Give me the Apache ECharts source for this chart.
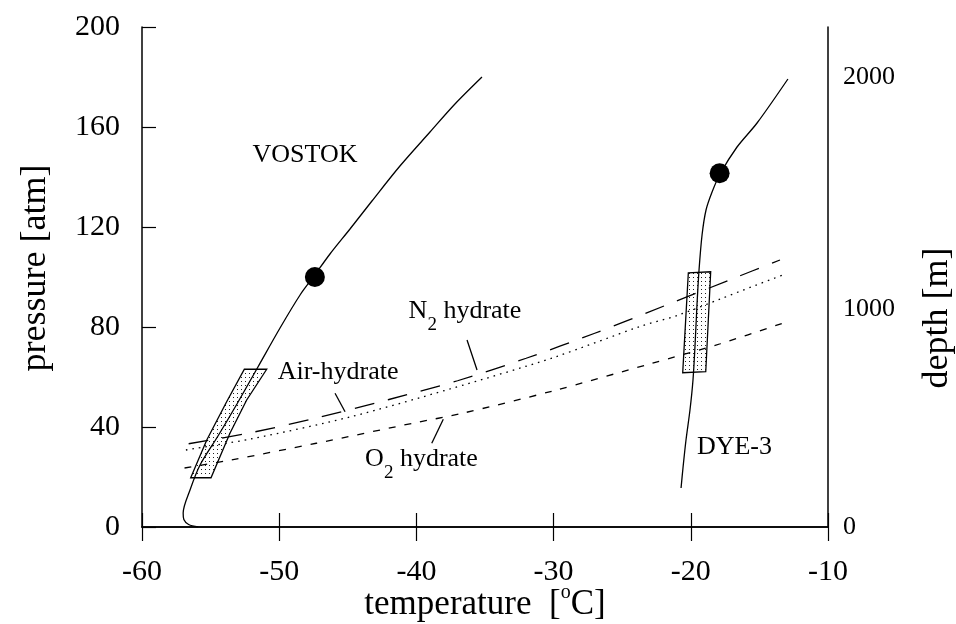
<!DOCTYPE html>
<html><head><meta charset="utf-8">
<script src="https://cdn.jsdelivr.net/npm/echarts@6/dist/echarts.min.js"></script>
<style>html,body{margin:0;padding:0;background:#fff}#c{width:956px;height:624px}</style>
</head><body><div id="c"></div>
<script>
// ---- axis ticks ----
const xTicks = [-60, -50, -40, -30, -20, -10];
const pressureTicks = [0, 40, 80, 120, 160, 200];
const depthLabels = [0, 1000, 2000];
const depthAtPressure = [0, 87, 180];

// ---- VOSTOK temperature profile ----
const vostokT = [-55.9, -56.6, -56.95, -57.0, -56.5, -55.77, -54.46, -53.08, -51.55, -49.94, -48.48, -47.46, -46.3, -44.84, -43.24, -41.2, -39.01, -37.19, -35.22];
const vostokP = [0, 1.0, 3.0, 5.6, 14.8, 24.8, 36.4, 49.2, 64.0, 79.6, 92.8, 100.4, 109.2, 119.2, 130.4, 144.4, 158.0, 169.2, 180.0];
const vostokDot = [-47.4, 100];

// ---- DYE-3 temperature profile ----
const dyeT = [-20.71, -20.57, -20.35, -20.06, -19.84, -19.69, -19.55, -19.4, -19.18, -18.89, -18.45, -17.87, -16.63, -15.17, -12.92];
const dyeP = [15.6, 23.6, 34.8, 46.8, 58.8, 72.8, 88.8, 102.8, 116.8, 126.8, 134.0, 141.2, 152.0, 161.6, 179.2];
const dyeDot = [-17.9, 141.5];

// ---- hydrate dissociation curves ----
const n2T = [-56.6, -52, -47, -42, -37, -32, -27, -22, -17, -13.5];
const n2P = [33.3, 37.8, 44, 51, 58.5, 67.5, 77.5, 88.3, 99.2, 106.8];
const airT = [-56.8, -52, -44.85, -37.5, -30, -23.7, -21, -17.85, -15.6, -13.2];
const airP = [30.8, 35.3, 44.0, 55.3, 67.8, 80.2, 84.6, 91.2, 96.0, 101.0];
const o2T = [-56.9, -53.5, -47.3, -40, -36.8, -30, -22.95, -17.85, -13.2];
const o2P = [23.6, 26.8, 33.5, 41.8, 45.3, 54.5, 65.3, 73.3, 81.7];

// ---- stippled bubble-to-hydrate transition zones ----
const boxVostok = [[-56.45, 19.7], [-55.28, 34.8], [-53.83, 50.1], [-52.54, 63.1], [-50.91, 63.1], [-52.37, 50.8], [-53.59, 37.5], [-54.97, 19.7]];
const boxDye = [[-20.59, 61.7], [-20.18, 101.7], [-18.55, 102.1], [-18.91, 62.1]];

// ---- leader lines ----
const leaderN2 = [[-36.31, 74.8], [-35.58, 62.8]];
const leaderAir = [[-45.93, 53.5], [-45.2, 46.1]];
const leaderO2 = [[-38.04, 43.1], [-38.88, 33.5]];

// ---- annotations ----
const labelNames = ['VOSTOK', 'N2 hydrate', 'Air-hydrate', 'O2 hydrate', 'DYE-3'];
const labelT = [-48.12, -36.46, -45.71, -39.63, -16.82];
const labelP = [148.8, 86.4, 61.8, 27.2, 31.8];

const pair = (a, b) => a.map((v, i) => [v, b[i]]);
const FONT = 'Liberation Serif';

// stipple pattern
const pc = document.createElement('canvas');
pc.width = 4; pc.height = 4;
const pctx = pc.getContext('2d');
pctx.fillStyle = '#fff'; pctx.fillRect(0, 0, 4, 4);
pctx.fillStyle = '#222'; pctx.fillRect(1, 1, 1, 1);
const stipple = { image: pc, repeat: 'repeat' };

function boxItem(poly) {
  return function (params, api) {
    return {
      type: 'polygon',
      shape: { points: poly.map(p => api.coord(p)) },
      style: { fill: stipple, stroke: '#000', lineWidth: 1.3 }
    };
  };
}

const richLbl = {
  m: { fontSize: 26, fontFamily: FONT, lineHeight: 30, color: '#000' },
  s: { fontSize: 19, fontFamily: FONT, lineHeight: 30, padding: [28, 0, 0, 0], color: '#000' }
};
function fmtLabel(name) {
  if (name.indexOf('2 ') === 1) return '{m|' + name[0] + '}{s|2}{m| ' + name.slice(3) + '}';
  return '{m|' + name + '}';
}

function lineSeries(data, type) {
  return {
    type: 'line', data: data, showSymbol: false, smooth: 0.3, silent: true, z: 3,
    lineStyle: { color: '#000', width: 1.3, type: type || 'solid', cap: 'butt' }
  };
}

const chart = echarts.init(document.getElementById('c'), null, { renderer: 'canvas' });
const axisLineStyle = { color: '#000', width: 1.5 };
const tickStyle = { inside: true, length: 14, lineStyle: { color: '#000', width: 1.2 } };
chart.setOption({
  animation: false,
  backgroundColor: '#fff',
  grid: { left: 142, right: 128, top: 27, bottom: 97, containLabel: false, outerBoundsMode: 'none' },
  xAxis: [{
    type: 'value', min: xTicks[0], max: xTicks[xTicks.length - 1], interval: 10, position: 'bottom',
    axisLine: { lineStyle: axisLineStyle },
    axisTick: tickStyle,
    axisLabel: { color: '#000', fontSize: 30, fontFamily: FONT, margin: 30 },
    splitLine: { show: false },
    name: 'temperature  [{sup|o}C]', nameLocation: 'middle', nameGap: 56, nameMoveOverlap: false,
    nameTextStyle: { color: '#000', fontSize: 35, fontFamily: FONT,
      rich: { sup: { fontSize: 20, fontFamily: FONT, color: '#000', padding: [0, 0, 23, 0] } } }
  }, {
    type: 'value', min: xTicks[0], max: xTicks[xTicks.length - 1], interval: 10, position: 'top',
    axisLine: { lineStyle: axisLineStyle },
    axisTick: tickStyle,
    axisLabel: { show: false }, splitLine: { show: false }
  }],
  yAxis: [{
    type: 'value', min: pressureTicks[0], max: pressureTicks[pressureTicks.length - 1], interval: 40, position: 'left',
    axisLine: { show: true, lineStyle: axisLineStyle },
    axisTick: Object.assign({ show: true }, tickStyle),
    axisLabel: { color: '#000', fontSize: 30, fontFamily: FONT, margin: 22 },
    splitLine: { show: false },
    name: 'pressure [atm]', nameLocation: 'middle', nameGap: 88, nameRotate: 90, nameMoveOverlap: false,
    nameTextStyle: { color: '#000', fontSize: 36, fontFamily: FONT, padding: [0, 0, 0, 18] }
  }, {
    type: 'value', min: pressureTicks[0], max: pressureTicks[pressureTicks.length - 1], position: 'right',
    axisLine: { show: true, lineStyle: axisLineStyle },
    axisTick: { show: false },
    axisLabel: { color: '#000', fontSize: 26, fontFamily: FONT, margin: 15,
      customValues: depthAtPressure,
      formatter: v => String(depthLabels[depthAtPressure.indexOf(v)]) },
    splitLine: { show: false },
    name: 'depth [m]', nameLocation: 'middle', nameGap: 92, nameRotate: 90, nameMoveOverlap: false,
    nameTextStyle: { color: '#000', fontSize: 36, fontFamily: FONT, padding: [0, 82, 0, 0] }
  }],
  series: [
    { type: 'custom', renderItem: boxItem(boxVostok), data: [boxVostok[0]], silent: true, z: 1 },
    { type: 'custom', renderItem: boxItem(boxDye), data: [boxDye[0]], silent: true, z: 1 },
    lineSeries(pair(vostokT, vostokP)),
    lineSeries(pair(dyeT, dyeP)),
    lineSeries(pair(n2T, n2P), [20, 14]),
    lineSeries(pair(airT, airP), [1.6, 5]),
    lineSeries(pair(o2T, o2P), [7, 9]),
    lineSeries(leaderN2), lineSeries(leaderAir), lineSeries(leaderO2),
    { type: 'scatter', data: [vostokDot, dyeDot], symbolSize: 20, itemStyle: { color: '#000', opacity: 1 }, silent: true, z: 5 },
    {
      type: 'custom', silent: true, z: 6,
      data: labelNames.map((n, i) => [labelT[i], labelP[i], i]),
      renderItem: function (params, api) {
        const pt = api.coord([api.value(0), api.value(1)]);
        const name = labelNames[api.value(2)];
        return {
          type: 'text', x: pt[0], y: pt[1],
          style: { text: fmtLabel(name), rich: richLbl, align: 'center', verticalAlign: 'middle', fill: '#000' }
        };
      }
    }
  ]
});
</script>
</body></html>
